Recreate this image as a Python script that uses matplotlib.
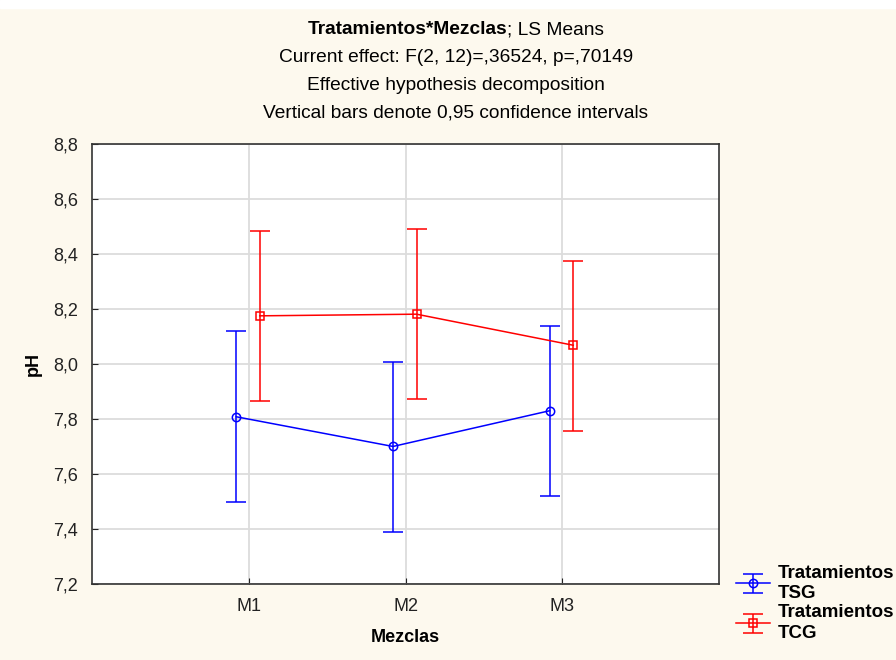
import matplotlib
matplotlib.use("Agg")
import matplotlib.pyplot as plt
import numpy as np

plt.rcParams['font.family'] = ['Liberation Sans', 'DejaVu Sans']

mezclas = ["M1", "M2", "M3"]
tsg_mean = [7.808, 7.700, 7.830]
tsg_low = [7.497, 7.390, 7.520]
tsg_high = [8.120, 8.006, 8.137]
tcg_mean = [8.175, 8.181, 8.068]
tcg_low = [7.866, 7.871, 7.758]
tcg_high = [8.482, 8.492, 8.375]
yticks = [7.2, 7.4, 7.6, 7.8, 8.0, 8.2, 8.4, 8.6, 8.8]
ylabels = ["7,2", "7,4", "7,6", "7,8", "8,0", "8,2", "8,4", "8,6", "8,8"]

bg = "#FDF9EE"
fig = plt.figure(figsize=(8.96, 6.6), dpi=100, facecolor=bg)
ax = fig.add_axes([0.1027, 0.1152, 0.6998, 0.6667])
ax.set_facecolor("white")

x = np.arange(len(mezclas))

def draw(offset, mean, low, high, color, marker, label):
    mean = np.array(mean)
    yerr = [mean - np.array(low), np.array(high) - mean]
    return ax.errorbar(x + offset, mean, yerr=yerr, color=color, lw=1.1,
                       marker=marker, ms=6, mfc="none", mec=color, mew=1.1,
                       capsize=7, capthick=1.1, elinewidth=1.1, label=label)

e1 = draw(-0.08, tsg_mean, tsg_low, tsg_high, "#0000FF", "o", "Tratamientos\nTSG")
e2 = draw(0.07, tcg_mean, tcg_low, tcg_high, "#FF0000", "s", "Tratamientos\nTCG")

ax.set_xlim(-1, 3)
ax.set_ylim(7.2, 8.8)
ax.set_xticks(x)
ax.set_xticklabels(mezclas)
ax.set_yticks(yticks)
ax.set_yticklabels(ylabels)
ax.grid(True, color="#DCDCDC", lw=1.3)
ax.set_axisbelow(True)
ax.tick_params(direction="in", length=4, labelsize=13, colors="#222222")
ax.tick_params(axis="y", pad=10)
ax.tick_params(axis="x", pad=10)
for s in ax.spines.values():
    s.set_color("#333333")
    s.set_linewidth(1.2)

ax.set_xlabel("Mezclas", fontsize=13, fontweight="bold", labelpad=10)
ax.set_ylabel("pH", fontsize=13, fontweight="bold", labelpad=8)

# title block
fig.patches.append(plt.Rectangle((0, 0.988), 1, 0.012, transform=fig.transFigure,
                                 color="white", zorder=-1))
fs = 13.8
cx = 456 / 896
t1 = fig.text(0, 1 - 30 / 660, "Tratamientos*Mezclas", fontsize=fs, fontweight="bold",
              va="center", ha="left")
t2 = fig.text(0, 1 - 30 / 660, "; LS Means", fontsize=fs, va="center", ha="left")
fig.canvas.draw()
r = fig.canvas.get_renderer()
w1 = t1.get_window_extent(r).width
w2 = t2.get_window_extent(r).width
x0 = cx * 896 - (w1 + w2) / 2
t1.set_x(x0 / 896)
t2.set_x((x0 + w1) / 896)
lines = ["Current effect: F(2, 12)=,36524, p=,70149",
         "Effective hypothesis decomposition",
         "Vertical bars denote 0,95 confidence intervals"]
for i, s in enumerate(lines):
    fig.text(cx, 1 - (57 + 28 * i) / 660, s, fontsize=fs, ha="center", va="center")

leg = fig.legend(handles=[e1, e2], loc="upper left", bbox_to_anchor=(0.813, 0.156),
                 frameon=False, prop={"size": 13.5, "weight": "bold"},
                 handlelength=1.8, handletextpad=0.45, labelspacing=0.1,
                 borderaxespad=0)
for t in leg.get_texts():
    t.set_linespacing(1.3)

fig.savefig("out.png", dpi=100, facecolor=bg)
